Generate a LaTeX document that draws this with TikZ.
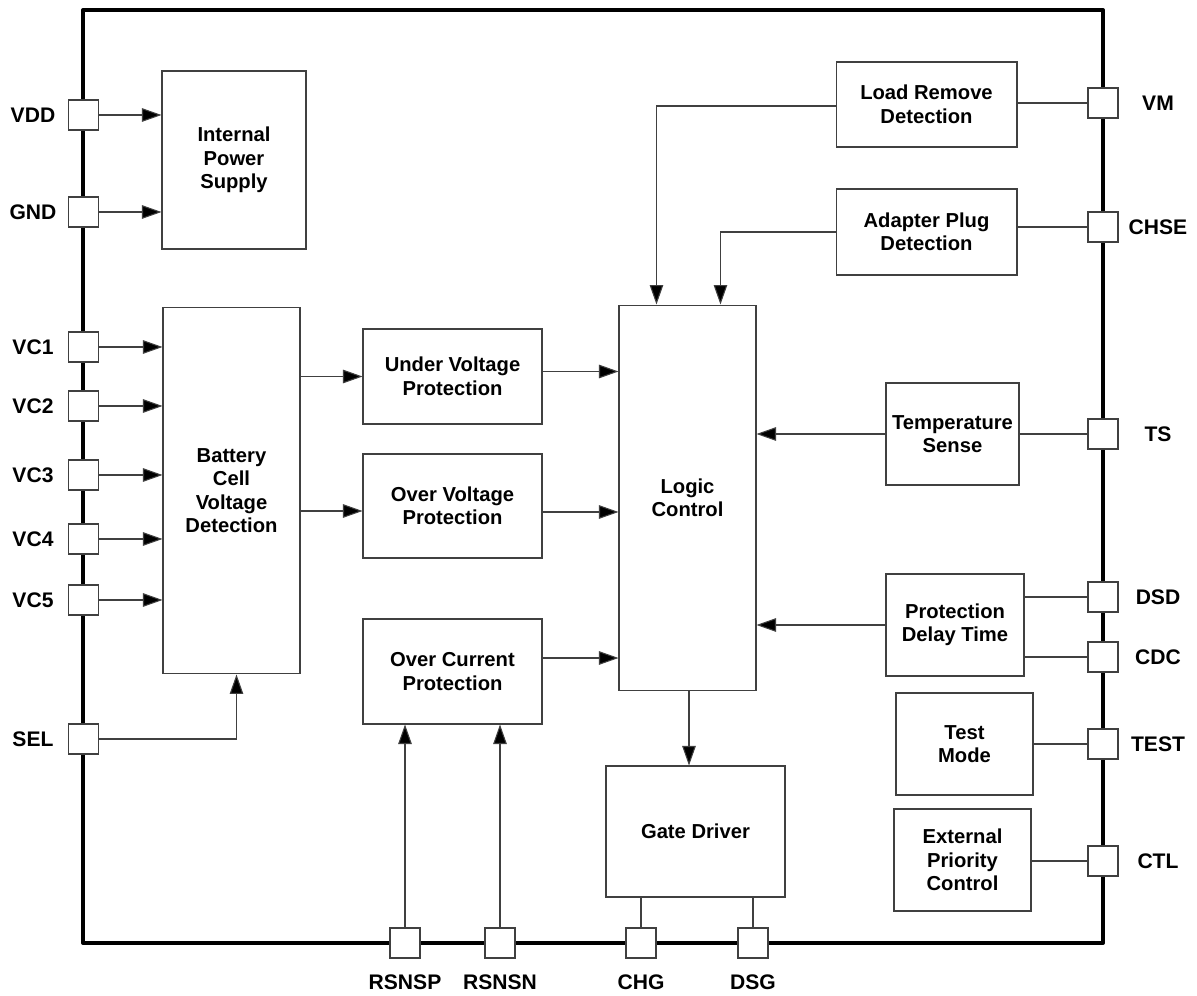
\documentclass[tikz,border=0pt]{standalone}
\usepackage{fontspec}
\setmainfont{Liberation Sans}
\usetikzlibrary{arrows.meta}
\definecolor{wire}{gray}{0.25}
\tikzstyle{block}=[draw=wire, line width=0.6pt, fill=white, align=center, inner sep=2pt, font=\fontsize{11.5}{13.4}\selectfont\bfseries]
\tikzstyle{pin}=[draw=wire, line width=0.6pt, fill=white, minimum size=0.6cm, inner sep=0pt]
\tikzstyle{pinlabel}=[font=\fontsize{12}{14}\selectfont\bfseries]
\tikzstyle{signal}=[draw=wire, line width=0.6pt, -{Triangle[length=3.9mm, width=2.7mm, fill=black]}]
\tikzstyle{link}=[draw=wire, line width=0.6pt]

\begin{document}
\begin{tikzpicture}[x=0.02cm, y=-0.02cm]
  \useasboundingbox (0, 0) rectangle (1197, 996);
  % package outline
  \draw[line width=2.3pt, line join=round] (83, 10) rectangle (1103, 943);

  % blocks
  \node[block, minimum width=2.88cm, minimum height=3.56cm] (ips) at (234, 160) {Internal\\Power\\Supply};
  \node[block, minimum width=2.74cm, minimum height=7.34cm] (bcvd) at (231.5, 490.5) {Battery\\Cell\\Voltage\\Detection};
  \node[block, minimum width=3.58cm, minimum height=1.90cm] (uvp) at (452.5, 376.5) {Under Voltage\\Protection};
  \node[block, minimum width=3.58cm, minimum height=2.08cm] (ovp) at (452.5, 506) {Over Voltage\\Protection};
  \node[block, minimum width=3.58cm, minimum height=2.10cm] (ocp) at (452.5, 671.5) {Over Current\\Protection};
  \node[block, minimum width=2.74cm, minimum height=7.72cm] (logic) at (687.5, 498) {Logic\\Control};
  \node[block, minimum width=3.58cm, minimum height=2.62cm] (gate) at (695.5, 831.5) {Gate Driver};
  \node[block, minimum width=3.62cm, minimum height=1.70cm] (lrd) at (926.5, 104.5) {Load Remove\\Detection};
  \node[block, minimum width=3.62cm, minimum height=1.72cm] (apd) at (926.5, 232) {Adapter Plug\\Detection};
  \node[block, minimum width=2.66cm, minimum height=2.04cm] (temp) at (952.5, 434) {Temperature\\Sense};
  \node[block, minimum width=2.76cm, minimum height=2.04cm] (pdt) at (955, 625) {Protection\\Delay Time};
  \node[block, minimum width=2.74cm, minimum height=2.04cm] (tmode) at (964.5, 744) {Test\\Mode};
  \node[block, minimum width=2.74cm, minimum height=2.04cm] (epc) at (962.5, 860) {External\\Priority\\Control};

  % pins on the left side
  \foreach \name/\txt/\y in {vdd/VDD/115, gnd/GND/212, vcA/VC1/347, vcB/VC2/406,
      vcC/VC3/475, vcD/VC4/539, vcE/VC5/600, sel/SEL/739} {
    \node[pin] (\name) at (83.5, \y) {};
    \node[pinlabel] at (33, \y) {\txt};
  }
  % pins on the right side
  \foreach \name/\txt/\y in {vm/VM/103, chse/CHSE/227, ts/TS/434, dsd/DSD/597,
      cdc/CDC/657, test/TEST/744, ctl/CTL/861} {
    \node[pin] (\name) at (1103, \y) {};
    \node[pinlabel] at (1158, \y) {\txt};
  }
  % pins on the bottom side
  \foreach \name/\txt/\x in {rsnsp/RSNSP/405, rsnsn/RSNSN/500, chg/CHG/641, dsg/DSG/753} {
    \node[pin] (\name) at (\x, 943) {};
    \node[pinlabel] at (\x, 982) {\txt};
  }

  % connections
  \foreach \p in {vdd, gnd}
    \draw[signal] (\p.east) -- (\p.east -| ips.west);
  \foreach \p in {vcA, vcB, vcC, vcD, vcE}
    \draw[signal] (\p.east) -- (\p.east -| bcvd.west);
  \draw[signal] (sel.east) -| ([xshift=0.1cm]bcvd.south);
  \draw[signal] (uvp.west -| bcvd.east) -- (uvp.west);
  \draw[signal] ([yshift=-0.1cm]ovp.west -| bcvd.east) -- ([yshift=-0.1cm]ovp.west);
  \draw[signal] ([yshift=0.1cm]uvp.east) -- ([yshift=0.1cm]uvp.east -| logic.west);
  \draw[signal] ([yshift=-0.12cm]ovp.east) -- ([yshift=-0.12cm]ovp.east -| logic.west);
  \draw[signal] ([yshift=0.27cm]ocp.east) -- ([yshift=0.27cm]ocp.east -| logic.west);
  \draw[signal] (rsnsp.north) -- (rsnsp.north |- ocp.south);
  \draw[signal] (rsnsn.north) -- (rsnsn.north |- ocp.south);
  \draw[signal] ([xshift=0.03cm]logic.south) -- ([xshift=0.03cm]logic.south |- gate.north);
  \draw[link] (chg.north |- gate.south) -- (chg.north);
  \draw[link] (dsg.north |- gate.south) -- (dsg.north);
  \draw[signal] ([yshift=-0.03cm]lrd.west) -| ([xshift=0.76cm]logic.north west);
  \draw[signal] (apd.west) -| ([xshift=2.04cm]logic.north west);
  \draw[link] (vm.west -| lrd.east) -- (vm.west);
  \draw[link] (chse.west -| apd.east) -- (chse.west);
  \draw[link] (ts.west -| temp.east) -- (ts.west);
  \draw[signal] (temp.west) -- (temp.west -| logic.east);
  \draw[signal] (pdt.west) -- (pdt.west -| logic.east);
  \draw[link] (dsd.west -| pdt.east) -- (dsd.west);
  \draw[link] (cdc.west -| pdt.east) -- (cdc.west);
  \draw[link] (test.west -| tmode.east) -- (test.west);
  \draw[link] (ctl.west -| epc.east) -- (ctl.west);
\end{tikzpicture}
\end{document}
